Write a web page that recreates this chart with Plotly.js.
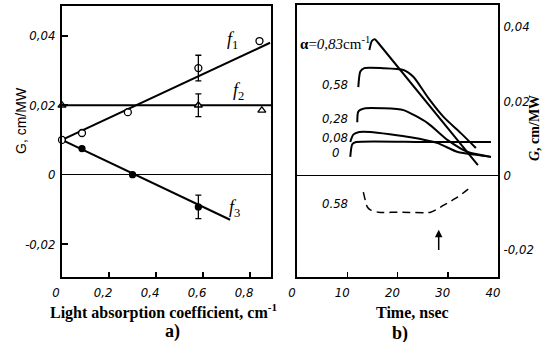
<!DOCTYPE html>
<html>
<head>
<meta charset="utf-8">
<script src="https://cdn.plot.ly/plotly-3.0.1.min.js"></script>
<style>html,body{margin:0;padding:0;background:#fff;}#chart{width:543px;height:342px;}</style>
</head>
<body>
<div id="chart"></div>
<script>
// ---------- Panel a) data ----------
const alphaTicks = [0, 0.2, 0.4, 0.6, 0.8];
const alphaTickText = ['0', '0,2', '0,4', '0,6', '0,8'];
const gTicks = [-0.02, 0, 0.02, 0.04];
const gTickText = ['-0,02', '0', '0,02', '0,04'];

// f1 (open circles)
const f1X = [0, 0.085, 0.28, 0.84];
const f1Y = [0.010, 0.012, 0.018, 0.0385];
const f1ErrX = [0.58];
const f1ErrY = [0.0307];
const f1ErrV = [0.0037];
const f1LineX = [0, 0.885];
const f1LineY = [0.010, 0.038];

// f2 (open triangles)
const f2X = [0, 0.85];
const f2Y = [0.020, 0.0185];
const f2ErrX = [0.58];
const f2ErrY = [0.020];
const f2ErrV = [0.0033];
const f2LineX = [0, 0.889];
const f2LineY = [0.020, 0.020];

// f3 (filled dots)
const f3X = [0.085, 0.30];
const f3Y = [0.0075, 0.0];
const f3ErrX = [0.58];
const f3ErrY = [-0.0093];
const f3ErrV = [0.0034];
const f3LineX = [0, 0.715];
const f3LineY = [0.010, -0.013];

// ---------- Panel b) data ----------
const timeTicks = [0, 10, 20, 30, 40];
const timeTickText = ['0', '10', '20', '30', '40'];
const g2Ticks = [-0.02, 0, 0.02, 0.04];
const g2TickText = ['-0,02', '0', '0,02', '0,04'];

const t083 = [14.4, 14.9, 15.5, 16.1, 36];
const g083 = [0.0338, 0.0362, 0.0367, 0.0358, 0.0028];
const t058 = [12.2, 12.6, 13.4, 17, 21.2, 23.2, 26, 29.2, 32.6, 35.6];
const g058 = [0.0238, 0.0280, 0.0289, 0.0289, 0.0284, 0.0265, 0.0211, 0.0157, 0.0114, 0.0074];
const t028 = [12, 12.2, 13.6, 17, 21.2, 26, 30, 34, 38.6];
const g028 = [0.0143, 0.0172, 0.0181, 0.0181, 0.0176, 0.0141, 0.0095, 0.0063, 0.005];
const t008 = [10.6, 11.2, 12.4, 14.6, 22.6, 28, 32, 36, 38.6];
const g008 = [0.0090, 0.0110, 0.0117, 0.0117, 0.0103, 0.0087, 0.0063, 0.0055, 0.005];
const t000 = [10.6, 11.0, 11.8, 25, 38.6];
const g000 = [0.0050, 0.0084, 0.0090, 0.0090, 0.0090];
const tDash = [13.2, 14, 14.6, 16.2, 21, 26.6, 29.2, 32, 34.6];
const gDash = [-0.0045, -0.0085, -0.0093, -0.0099, -0.0099, -0.0099, -0.0080, -0.0058, -0.0031];
const arrowT = 28.2;
const arrowFrom = -0.0205;
const arrowTo = -0.0146;

const K = 'black';
const lineW = 2;
const tickFont = {family: 'Liberation Sans Narrow, DejaVu Sans Condensed, sans-serif', size: 13, style: 'italic', color: K};

function markerTrace(x, y, symbol, xa, ya, err) {
  const open = symbol.indexOf('open') >= 0;
  const tr = {x: x, y: y, mode: 'markers', type: 'scatter', xaxis: xa, yaxis: ya,
    marker: {symbol: symbol, size: open ? 7 : 6, color: K, line: {color: K, width: 1.3}},
    hoverinfo: 'skip', cliponaxis: false};
  if (err) tr.error_y = {type: 'data', array: err, visible: true, color: K, thickness: 1.3, width: 3};
  return tr;
}
function bgTrace(x, y, xa, ya, symbol) {
  // white fill behind open markers
  return {x: x, y: y, mode: 'markers', type: 'scatter', xaxis: xa, yaxis: ya,
    marker: {symbol: symbol, size: 5.5, color: 'white'}, hoverinfo: 'skip', cliponaxis: false};
}
function lineTrace(x, y, xa, ya, extra) {
  return Object.assign({x: x, y: y, mode: 'lines', type: 'scatter', xaxis: xa, yaxis: ya,
    line: {color: K, width: lineW}, hoverinfo: 'skip'}, extra || {});
}
const sp = {line: {color: K, width: lineW, shape: 'spline', smoothing: 0.6}};

const data = [
  lineTrace(f1LineX, f1LineY, 'x', 'y'),
  lineTrace(f2LineX, f2LineY, 'x', 'y'),
  lineTrace(f3LineX, f3LineY, 'x', 'y'),
  bgTrace(f1X, f1Y, 'x', 'y', 'circle'),
  bgTrace(f1ErrX, f1ErrY, 'x', 'y', 'circle'),
  bgTrace(f2X, f2Y, 'x', 'y', 'triangle-up'),
  bgTrace(f2ErrX, f2ErrY, 'x', 'y', 'triangle-up'),
  markerTrace(f1X, f1Y, 'circle-open', 'x', 'y'),
  markerTrace(f1ErrX, f1ErrY, 'circle-open', 'x', 'y', f1ErrV),
  markerTrace(f2X, f2Y, 'triangle-up-open', 'x', 'y'),
  markerTrace(f2ErrX, f2ErrY, 'triangle-up-open', 'x', 'y', f2ErrV),
  markerTrace(f3X, f3Y, 'circle', 'x', 'y'),
  markerTrace(f3ErrX, f3ErrY, 'circle', 'x', 'y', f3ErrV),
  lineTrace(t083, g083, 'x2', 'y2', sp),
  lineTrace(t058, g058, 'x2', 'y2', sp),
  lineTrace(t028, g028, 'x2', 'y2', sp),
  lineTrace(t008, g008, 'x2', 'y2', sp),
  lineTrace(t000, g000, 'x2', 'y2', sp),
  lineTrace(tDash, gDash, 'x2', 'y2', {line: {color: K, width: 1.5, dash: '8px,5px', shape: 'spline', smoothing: 0.6}})
];

const W = 543, H = 342;
function px(x) { return x / W; }
function py(y) { return 1 - y / H; }

const axBase = {showline: true, linecolor: K, linewidth: 2, mirror: true, showgrid: false,
  ticks: 'inside', ticklen: 5, tickwidth: 1.5, tickcolor: K, tickfont: tickFont, zeroline: false};

const serif = 'Liberation Serif, Times New Roman, serif';
const annFont = (s, extra) => Object.assign({family: serif, size: s, color: K}, extra || {});
function lab(x, y, text, font, extra) {
  return Object.assign({xref: 'paper', yref: 'paper', x: px(x), y: py(y), text: text, showarrow: false,
    xanchor: 'center', yanchor: 'middle', font: font}, extra || {});
}

const layout = {
  width: W, height: H, margin: {l: 0, r: 0, t: 0, b: 0},
  paper_bgcolor: 'white', plot_bgcolor: 'white', showlegend: false,
  xaxis: Object.assign({}, axBase, {domain: [px(62), px(271)], range: [0, 0.889],
    tickvals: alphaTicks, ticktext: alphaTickText, anchor: 'y', ticklabelstandoff: 2, ticklabelshift: -6}),
  yaxis: Object.assign({}, axBase, {domain: [1 - 277 / H, 1 - 6 / H], range: [-0.0295, 0.0486],
    tickvals: gTicks, ticktext: gTickText, ticks: 'inside', ticklen: 6, anchor: 'x', ticklabelstandoff: 2,
    zeroline: true, zerolinecolor: K, zerolinewidth: 1}),
  xaxis2: Object.assign({}, axBase, {domain: [px(297), px(498)], range: [0, 40],
    tickvals: timeTicks, ticktext: timeTickText, anchor: 'y2', ticklabelstandoff: 2, ticklabelshift: -5}),
  yaxis2: Object.assign({}, axBase, {domain: [1 - 277 / H, 1 - 5 / H], range: [-0.02735, 0.0459],
    tickvals: g2Ticks, ticktext: g2TickText, ticks: '', side: 'right', anchor: 'x2', ticklabelstandoff: 1,
    zeroline: true, zerolinecolor: K, zerolinewidth: 1}),
  annotations: [
    lab(21, 121, 'G, cm/MW', {family: 'Liberation Sans, Arial, sans-serif', size: 14, color: K}, {textangle: -90}),
    lab(534, 128, '<i>G</i>, cm/MW', annFont(14, {weight: 'bold'}), {textangle: -90}),
    lab(163, 311, 'Light absorption coefficient, cm<sup>-1</sup>', annFont(16, {weight: 'bold'})),
    lab(172, 331, 'a)', annFont(18, {weight: 'bold'})),
    lab(413, 312, 'Time, nsec', annFont(16, {weight: 'bold'})),
    lab(400, 333, 'b)', annFont(18, {weight: 'bold'})),
    lab(232, 41, '<i>f</i><sub>1</sub>', annFont(18)),
    lab(238, 91, '<i>f</i><sub>2</sub>', annFont(18)),
    lab(234, 208, '<i>f</i><sub>3</sub>', annFont(18)),
    lab(298, 43, '<b>α</b>=<span style="font-family:Liberation Sans Narrow;font-style:italic">0,83</span>cm<sup>-1</sup>', annFont(15), {xanchor: 'left'}),
    lab(350, 85, '0,58', tickFont, {xanchor: 'right'}),
    lab(350, 118, '0,28', tickFont, {xanchor: 'right'}),
    lab(350, 137, '0,08', tickFont, {xanchor: 'right'}),
    lab(341, 152, '0', tickFont, {xanchor: 'right'}),
    lab(350, 203, '0.58', tickFont, {xanchor: 'right'}),
    {xref: 'x2', yref: 'y2', x: arrowT, y: arrowTo, ax: arrowT, ay: arrowFrom, axref: 'x2', ayref: 'y2',
     text: '', showarrow: true, arrowhead: 2, arrowsize: 1, arrowwidth: 1.5, arrowcolor: K}
  ]
};

Plotly.newPlot('chart', data, layout, {staticPlot: true, displayModeBar: false});
</script>
</body>
</html>
